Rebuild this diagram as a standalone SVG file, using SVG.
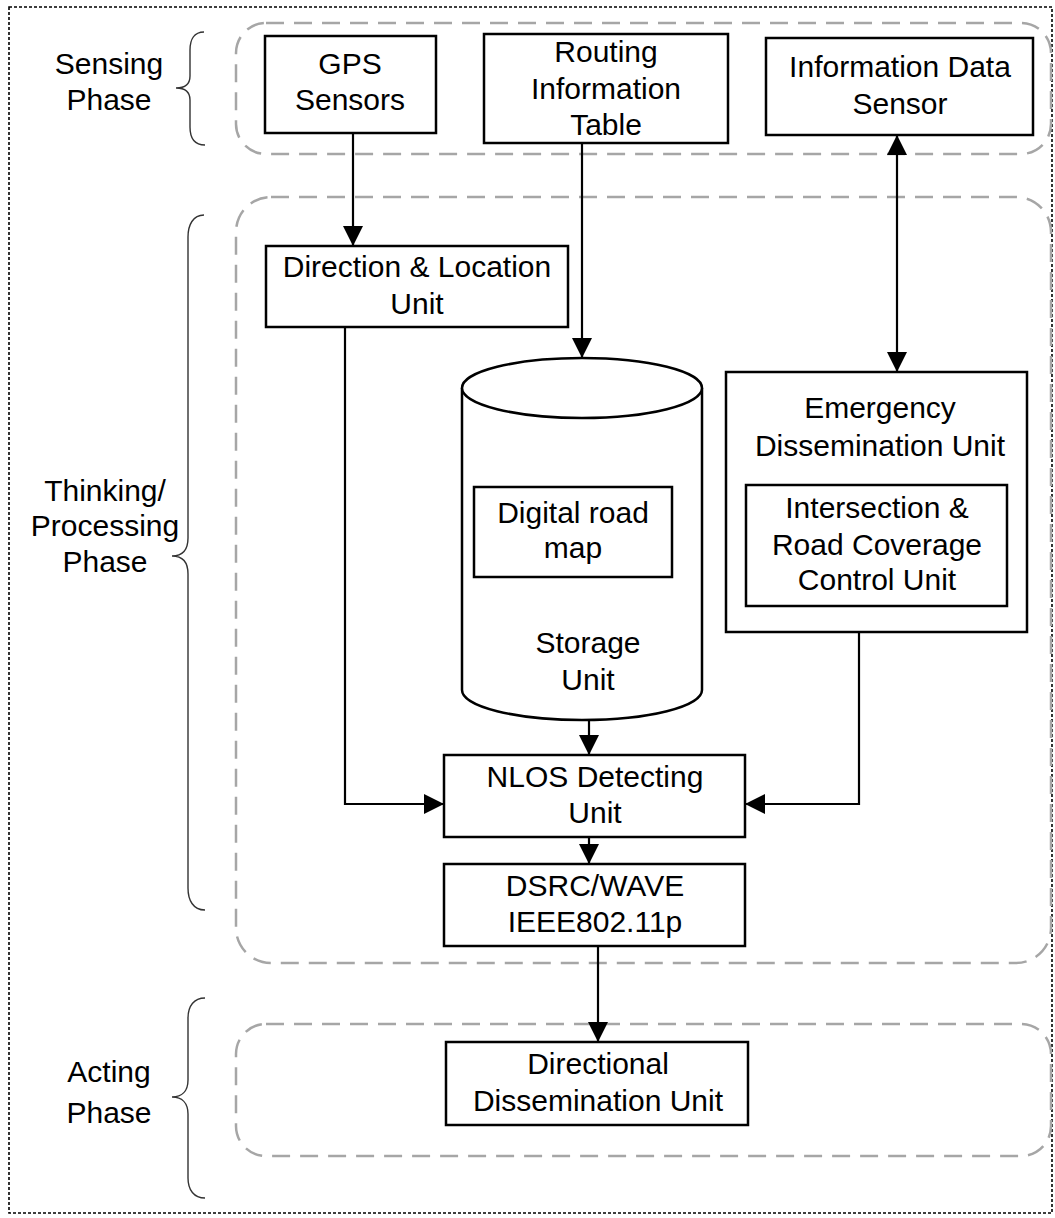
<svg xmlns="http://www.w3.org/2000/svg" width="1055" height="1218" viewBox="0 0 1055 1218">
<style>
  text { font-family: "Liberation Sans", Arial, sans-serif; font-size: 30px; fill: #000; text-anchor: middle; }
  .box { fill: #fff; stroke: #000; stroke-width: 2.5; }
  .grp { fill: none; stroke: #a6a6a6; stroke-width: 2.5; stroke-dasharray: 18 10; }
  .brace { fill: none; stroke: #333; stroke-width: 1.4; }
  .conn { fill: none; stroke: #000; stroke-width: 2.2; }
</style>
<defs>
  <marker id="ah" markerUnits="userSpaceOnUse" markerWidth="20" markerHeight="20" viewBox="0 0 20 20" refX="20" refY="10" orient="auto">
    <path d="M0,0 L20,10 L0,20 Z" fill="#000"/>
  </marker>
  <marker id="ahs" markerUnits="userSpaceOnUse" markerWidth="20" markerHeight="20" viewBox="0 0 20 20" refX="0" refY="10" orient="auto">
    <path d="M20,0 L0,10 L20,20 Z" fill="#000"/>
  </marker>
</defs>
<rect width="1055" height="1218" fill="#fff"/>
<rect x="9" y="7" width="1043" height="1206" fill="none" stroke="#000" stroke-width="1.6" stroke-dasharray="3 2"/>

<g id="phases">
  <rect class="grp" x="236" y="23" width="815" height="131" rx="30"/>
  <rect class="grp" x="236" y="197" width="815" height="766" rx="35"/>
  <rect class="grp" x="236" y="1024" width="815" height="132" rx="30"/>
  <path class="brace" d="M204,32 C194,32 190,40 190,50 L190,76 C190,84 185,88 176,88 C185,88 190,92 190,100 L190,127 C190,137 194,145 205,145"/>
  <path class="brace" d="M204,215 C193,215 188,225 188,237 L188,538 C188,550 182,556 172,556 C182,556 188,562 188,574 L188,888 C188,900 193,910 205,910"/>
  <path class="brace" d="M205,998 C194,998 188,1006 188,1018 L188,1080 C188,1091 182,1097 172,1097 C182,1097 188,1103 188,1114 L188,1178 C188,1190 194,1198 205,1198"/>
  <text x="109" y="74">Sensing</text>
  <text x="109" y="110">Phase</text>
  <text x="105" y="501">Thinking/</text>
  <text x="105" y="536">Processing</text>
  <text x="105" y="572">Phase</text>
  <text x="109" y="1082">Acting</text>
  <text x="109" y="1123">Phase</text>
</g>

<g id="connectors">
  <line class="conn" x1="353" y1="133" x2="353" y2="246" marker-end="url(#ah)"/>
  <line class="conn" x1="582" y1="143" x2="582" y2="358" marker-end="url(#ah)"/>
  <line class="conn" x1="897" y1="135" x2="897" y2="372" marker-start="url(#ahs)" marker-end="url(#ah)"/>
  <polyline class="conn" points="345,327 345,804 444,804" marker-end="url(#ah)"/>
  <polyline class="conn" points="859,632 859,804 745,804" marker-end="url(#ah)"/>
  <line class="conn" x1="589" y1="720" x2="589" y2="755" marker-end="url(#ah)"/>
  <line class="conn" x1="589" y1="837" x2="589" y2="864" marker-end="url(#ah)"/>
  <line class="conn" x1="598" y1="946" x2="598" y2="1042" marker-end="url(#ah)"/>
</g>

<g id="gps">
  <rect class="box" x="265" y="36" width="171" height="97"/>
  <text x="350" y="74">GPS</text>
  <text x="350" y="110">Sensors</text>
</g>
<g id="routing">
  <rect class="box" x="484" y="34" width="244" height="109"/>
  <text x="606" y="62">Routing</text>
  <text x="606" y="99">Information</text>
  <text x="606" y="135">Table</text>
</g>
<g id="infosensor">
  <rect class="box" x="766" y="38" width="267" height="97"/>
  <text x="900" y="77">Information Data</text>
  <text x="900" y="114">Sensor</text>
</g>
<g id="direction">
  <rect class="box" x="266" y="246" width="302" height="81"/>
  <text x="417" y="277">Direction &amp; Location</text>
  <text x="417" y="314">Unit</text>
</g>
<g id="storage">
  <path class="box" d="M462,388 L462,690 A120,30 0 0 0 702,690 L702,388"/>
  <ellipse class="box" cx="582" cy="388" rx="120" ry="30"/>
  <text x="588" y="653">Storage</text>
  <text x="588" y="690">Unit</text>
</g>
<g id="roadmap">
  <rect class="box" x="474" y="487" width="198" height="90"/>
  <text x="573" y="523">Digital road</text>
  <text x="573" y="558">map</text>
</g>
<g id="emergency">
  <rect class="box" x="726" y="372" width="301" height="260"/>
  <text x="880" y="418">Emergency</text>
  <text x="880" y="456">Dissemination Unit</text>
</g>
<g id="intersection">
  <rect class="box" x="746" y="485" width="261" height="121"/>
  <text x="877" y="518">Intersection &amp;</text>
  <text x="877" y="555">Road Coverage</text>
  <text x="877" y="590">Control Unit</text>
</g>
<g id="nlos">
  <rect class="box" x="444" y="755" width="301" height="82"/>
  <text x="595" y="787">NLOS Detecting</text>
  <text x="595" y="823">Unit</text>
</g>
<g id="dsrc">
  <rect class="box" x="444" y="864" width="301" height="82"/>
  <text x="595" y="896">DSRC/WAVE</text>
  <text x="595" y="932">IEEE802.11p</text>
</g>
<g id="directional">
  <rect class="box" x="446" y="1042" width="302" height="83"/>
  <text x="598" y="1074">Directional</text>
  <text x="598" y="1111">Dissemination Unit</text>
</g>
</svg>
